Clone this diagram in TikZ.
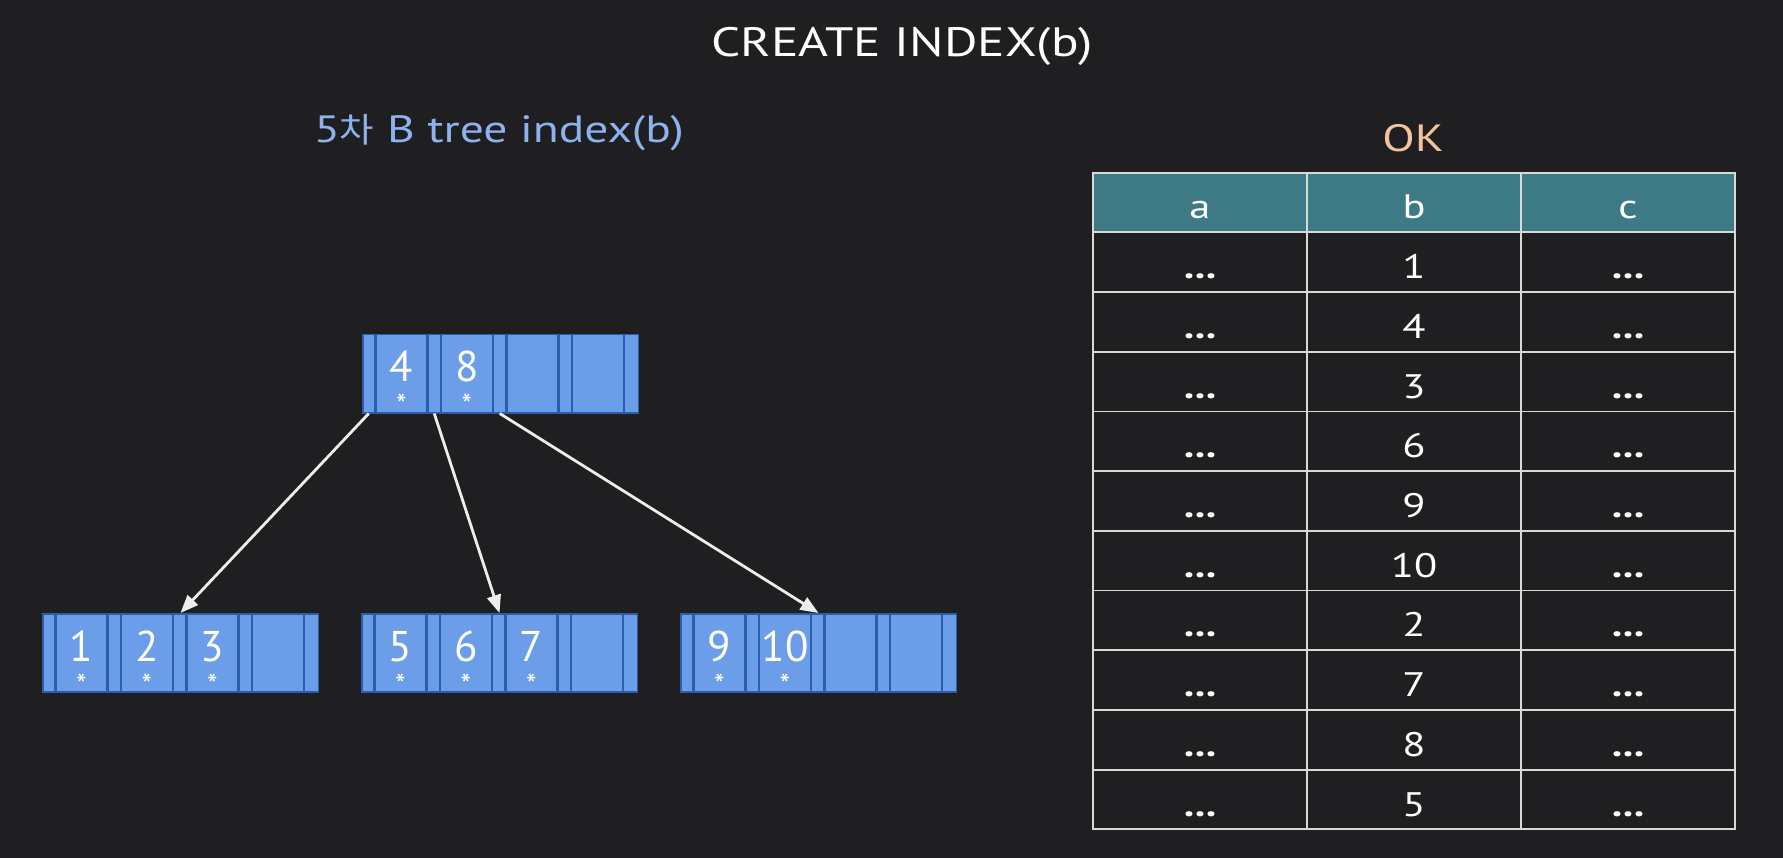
\documentclass[tikz,border=0pt]{standalone}
\usepackage{fontspec}
\setmainfont{PT Sans}
\newfontfamily\widefont[FakeStretch=1.25]{PT Sans}
\newfontfamily\krfont[FakeStretch=1.1]{Noto Sans CJK KR}
\usetikzlibrary{calc,arrows.meta}

\definecolor{bgc}{HTML}{1F1F22}
\definecolor{btfill}{HTML}{6B9DE8}
\definecolor{btline}{HTML}{2B5CAD}
\definecolor{headc}{HTML}{3E7A86}
\definecolor{gridc}{HTML}{D9D9D9}
\definecolor{subc}{HTML}{8DB2EE}
\definecolor{okc}{HTML}{F3C49C}
\definecolor{arrowc}{HTML}{EDEDED}

\tikzset{
  bt box/.style={draw=btline, fill=btfill, line width=1.5pt, minimum width=275.5pt,
    minimum height=78pt, inner sep=0pt, anchor=north west},
  bt div/.style={draw=btline, line width=2.4pt},
  bt key/.style={text=white, anchor=base, inner sep=0pt, font=\fontsize{43}{43}\selectfont},
  bt star/.style={text=white, anchor=base, inner sep=0pt, font=\fontsize{30}{30}\selectfont},
  ptr/.style={draw=arrowc, line width=2.8pt, -{Triangle[length=18pt,width=14pt]}},
  cell/.style={draw=gridc, line width=1.8pt, minimum width=214pt, minimum height=59.7pt,
    inner sep=0pt, text height=33pt, text depth=0pt, text=white,
    font=\widefont\fontsize{34}{34}\selectfont},
}

% one node of the B tree: name, x, y, keys
\newcommand{\btnode}[4]{%
  \node[bt box] (#1) at (#2,#3) {};
  \foreach \j in {0,...,4} {
    \coordinate (#1-p\j) at ($(#1.south west)+(6.75+65.5*\j,0)$);
  }
  \foreach \j in {1,...,4} {
    \draw[bt div] ($(#1.north west)+(65.5*\j-52,0)$) -- ($(#1.south west)+(65.5*\j-52,0)$);
    \draw[bt div] ($(#1.north west)+(65.5*\j,0)$) -- ($(#1.south west)+(65.5*\j,0)$);
  }
  \foreach \k [count=\j] in {#4} {
    \node[bt key] (#1-k\j) at ($(#1.north west)+(65.5*\j-26,48)$) {\k};
    \node[bt star] (#1-s\j) at ($(#1.north west)+(65.5*\j-26,82)$) {*};
  }
}

\begin{document}
\begin{tikzpicture}[x=1pt,y=-1pt]
\fill[bgc] (0,0) rectangle (1783,858);

% titles
\node[text=white, font=\widefont\fontsize{41}{41}\selectfont] (title) at (902,46) {CREATE INDEX(b)};
\node[text=subc, font=\widefont\fontsize{38}{38}\selectfont] (sub) at (499,133) {5{\krfont\fontsize{34}{34}\selectfont 차} B tree index(b)};
\node[text=okc, font=\widefont\fontsize{38}{38}\selectfont] (ok) at (1413,138) {OK};

% B tree
\btnode{root}{362}{334}{4,8}
\btnode{leafA}{42}{613}{1,2,3}
\btnode{leafB}{361}{613}{5,6,7}
\btnode{leafC}{680}{613}{9,10}

\draw[ptr] (root-p0) -- (leafA.north);
\draw[ptr] (root-p1) -- (leafB.north);
\draw[ptr] (root-p2) -- (leafC.north);

% table
\node[cell, fill=headc] (ha) at (1200,202.5) {a};
\node[cell, fill=headc] (hb) at (1414,202.5) {b};
\node[cell, fill=headc] (hc) at (1628,202.5) {c};
\foreach \v [count=\r] in {1,4,3,6,9,10,2,7,8,5} {
  \node[cell] (a\r) at (1200,202.5+59.7*\r) {\textbf{...}};
  \node[cell] (b\r) at (1414,202.5+59.7*\r) {\v};
  \node[cell] (c\r) at (1628,202.5+59.7*\r) {\textbf{...}};
}
\end{tikzpicture}
\end{document}
